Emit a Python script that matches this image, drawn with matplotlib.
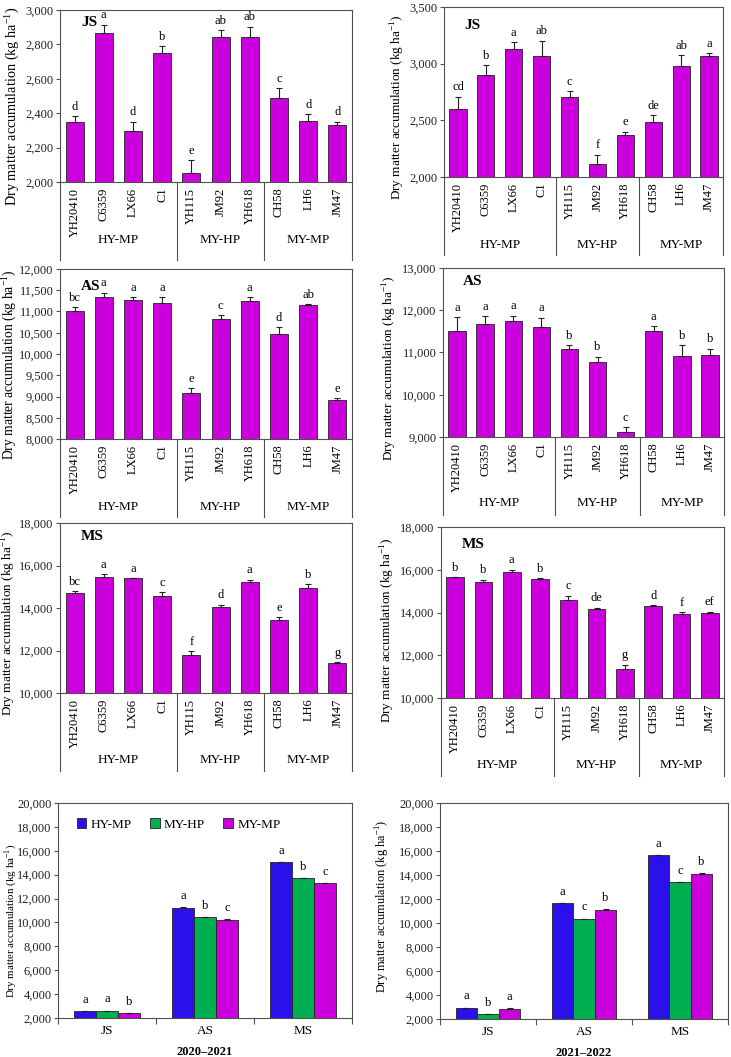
import matplotlib.pyplot as plt
import numpy as np
from matplotlib.ticker import FuncFormatter, MultipleLocator, FixedLocator

plt.rcParams['font.family'] = ['Liberation Serif', 'DejaVu Serif']
plt.rcParams['mathtext.fontset'] = 'custom'
plt.rcParams['mathtext.rm'] = 'Liberation Serif'

# data
varieties = ['YH20410', 'C6359', 'LX66', 'C1', 'YH115', 'JM92', 'YH618', 'CH58', 'LH6', 'JM47']
groups = ['HY-MP', 'MY-HP', 'MY-MP']
group_edges = [0, 4, 7, 10]

js_2021 = [2347, 2867, 2294, 2750, 2055, 2844, 2844, 2487, 2353, 2331]
js_2021_err = [35, 47, 57, 39, 70, 39, 59, 57, 41, 20]
js_2021_let = ['d', 'a', 'd', 'b', 'e', 'ab', 'ab', 'c', 'd', 'd']

js_2122 = [2600, 2903, 3131, 3066, 2703, 2115, 2369, 2481, 2977, 3072]
js_2122_err = [109, 83, 59, 136, 53, 83, 30, 62, 98, 20]
js_2122_let = ['cd', 'b', 'a', 'ab', 'c', 'f', 'e', 'de', 'ab', 'a']

as_2021 = [11000, 11342, 11280, 11202, 9072, 10834, 11241, 10474, 11155, 8908]
as_2021_err = [100, 100, 55, 133, 125, 78, 94, 156, 15, 55]
as_2021_let = ['bc', 'a', 'a', 'a', 'e', 'c', 'a', 'd', 'ab', 'e']

as_2122 = [11507, 11680, 11735, 11593, 11090, 10768, 9126, 11499, 10917, 10933]
as_2122_err = [322, 173, 133, 228, 87, 134, 110, 118, 260, 157]
as_2122_let = ['a', 'a', 'a', 'a', 'b', 'b', 'c', 'a', 'b', 'b']

ms_2021 = [14706, 15459, 15396, 14580, 11804, 14031, 15224, 13420, 14925, 11427]
ms_2021_err = [94, 125, 16, 173, 157, 125, 110, 157, 188, 32]
ms_2021_let = ['bc', 'a', 'a', 'c', 'f', 'd', 'a', 'e', 'b', 'g']

ms_2122 = [15645, 15442, 15879, 15567, 14585, 14148, 11372, 14320, 13914, 13977]
ms_2122_err = [16, 94, 125, 47, 202, 78, 187, 31, 109, 62]
ms_2122_let = ['b', 'b', 'a', 'b', 'c', 'de', 'g', 'd', 'f', 'ef']

stages = ['JS', 'AS', 'MS']
hy_2021 = [2565, 11250, 15050]
myhp_2021 = [2585, 10420, 13700]
mymp_2021 = [2390, 10220, 13270]
let_2021 = [['a', 'a', 'b'], ['a', 'b', 'c'], ['a', 'b', 'c']]

hy_2122 = [2925, 11640, 15650]
myhp_2122 = [2380, 10340, 13390]
mymp_2122 = [2850, 11120, 14100]
let_2122 = [['a', 'b', 'a'], ['a', 'c', 'b'], ['a', 'c', 'b']]

magenta = '#CC00DD'
blue = '#2B10EB'
green = '#00B050'
spine_c = '#505050'
ylab = 'Dry matter accumulation (kg ha$^{-1}$)'

W, H = 731, 1057
fig = plt.figure(figsize=(W / 100, H / 100), dpi=100)


def make_ax(box, yl):
    left, top, right, bottom = box
    ylpad, ylsize, yldy = yl
    ax = fig.add_axes([left / W, 1 - bottom / H, (right - left) / W, (bottom - top) / H])
    for s in ax.spines.values():
        s.set_color(spine_c)
        s.set_linewidth(0.8)
    ax.tick_params(axis='y', direction='out', length=3, width=0.8, color=spine_c,
                   labelsize=9, labelcolor='#222222', pad=1.5)
    ax.yaxis.set_major_formatter(FuncFormatter(lambda v, p: f'{int(v):,}'))
    wpx, hpx = right - left, bottom - top
    ax.set_ylabel(ylab, fontsize=ylsize, va='center')
    ax.yaxis.set_label_coords(-ylpad / wpx, 0.5 - yldy / hpx)
    return ax, wpx, hpx


def variety_panel(box, vals, errs, lets, ymin, ymax, step, stage, stage_xy, yl, grp_off):
    ax, wpx, hpx = make_ax(box, yl)
    x = np.arange(len(vals)) + 0.5
    ax.bar(x, vals, width=0.62, color=magenta, edgecolor='#222222', linewidth=0.6, zorder=2)
    ax.errorbar(x, vals, yerr=[np.zeros(len(errs)), errs], fmt='none', ecolor='#222222',
                elinewidth=0.8, capsize=2.5, capthick=0.8, zorder=3)
    for xi, v, e, t in zip(x, vals, errs, lets):
        ax.annotate(t, (xi, v + e), xytext=(0, 2.5), textcoords='offset points',
                    ha='center', va='bottom', fontsize=9)
    ax.set_xlim(0, 10)
    ax.set_ylim(ymin, ymax)
    ax.yaxis.set_major_locator(MultipleLocator(step))
    ax.set_xticks(x)
    ax.set_xticklabels(varieties, rotation=90, fontsize=9)
    ax.tick_params(axis='x', length=0, pad=4)
    ax.text(stage_xy[0], stage_xy[1], stage, transform=ax.transAxes, fontsize=11,
            fontweight='bold', ha='left', va='center')
    # group brackets below the axis
    tr = ax.get_xaxis_transform()
    for ge in group_edges:
        ax.plot([ge, ge], [0, -78 / hpx], transform=tr, color=spine_c, lw=0.8, clip_on=False)
    for g, a, b in zip(groups, group_edges[:-1], group_edges[1:]):
        ax.text((a + b) / 2, -grp_off / hpx, g, transform=tr, ha='center', va='center',
                fontsize=9.5)
    return ax


def stage_panel(box, hy, mh, mm, lets, period, yl, show_legend):
    ax, wpx, hpx = make_ax(box, yl)
    xs = np.arange(3) + 0.5
    bw = 0.225
    series = [(hy, blue, 'HY-MP'), (mh, green, 'MY-HP'), (mm, magenta, 'MY-MP')]
    for k, (vals, c, lab) in enumerate(series):
        xk = xs + (k - 1) * bw
        ax.bar(xk, vals, width=bw, color=c, edgecolor='#222222', linewidth=0.6,
               label=lab, zorder=2)
        ax.errorbar(xk, vals, yerr=[[0, 0, 0], [30, 30, 30]], fmt='none', ecolor='#222222',
                    elinewidth=0.8, capsize=2, capthick=0.8, zorder=3)
        for i in range(3):
            ax.annotate(lets[i][k], (xk[i], vals[i]), xytext=(0, 4), textcoords='offset points',
                        ha='center', va='bottom', fontsize=9)
    ax.set_xlim(0, 3)
    ax.set_ylim(2000, 20000)
    ax.yaxis.set_major_locator(MultipleLocator(2000))
    ax.xaxis.set_major_locator(FixedLocator([0, 1, 2, 3]))
    ax.xaxis.set_minor_locator(FixedLocator(list(xs)))
    ax.set_xticklabels([])
    ax.set_xticklabels(stages, minor=True, fontsize=9.5)
    ax.tick_params(axis='x', which='major', direction='out', length=4, width=0.8, color=spine_c)
    ax.tick_params(axis='x', which='minor', length=0, pad=5)
    ax.set_xlabel(period, fontsize=9, fontweight='bold', va='center')
    ax.xaxis.set_label_coords(0.5, -34 / hpx)
    if show_legend:
        ax.legend(loc='center', bbox_to_anchor=(0.41, 0.9), ncol=3, frameon=False,
                  fontsize=9.5, handlelength=0.75, handleheight=0.75, handletextpad=0.3,
                  columnspacing=1.4)
    return ax


variety_panel((60, 10, 352, 182), js_2021, js_2021_err, js_2021_let, 2000, 3000, 200,
              'JS', (0.072, 0.93), (48, 10.3, 10), 58)
variety_panel((444, 7, 723, 177), js_2122, js_2122_err, js_2122_let, 2000, 3500, 500,
              'JS', (0.072, 0.89), (46, 9.5, 15), 68)
variety_panel((60, 269, 352, 439), as_2021, as_2021_err, as_2021_let, 8000, 12000, 500,
              'AS', (0.072, 0.9), (51, 9.8, 11), 68)
variety_panel((443, 268, 724, 437), as_2122, as_2122_err, as_2122_let, 9000, 13000, 1000,
              'AS', (0.072, 0.92), (53, 9.5, 16), 66)
variety_panel((60, 523, 352, 693), ms_2021, ms_2021_err, ms_2021_let, 10000, 18000, 2000,
              'MS', (0.072, 0.92), (51, 9.5, 15), 67)
variety_panel((441, 527, 724, 698), ms_2122, ms_2122_err, ms_2122_let, 10000, 18000, 2000,
              'MS', (0.072, 0.9), (53, 9.5, 18), 67)

stage_panel((58, 803, 352, 1018), hy_2021, myhp_2021, mymp_2021, let_2021, '2020–2021',
            (47, 7.9, 10), True)
stage_panel((440, 803, 728, 1019), hy_2122, myhp_2122, mymp_2122, let_2122, '2021–2022',
            (57, 8.9, -5), False)

fig.savefig('out.png', dpi=100)
